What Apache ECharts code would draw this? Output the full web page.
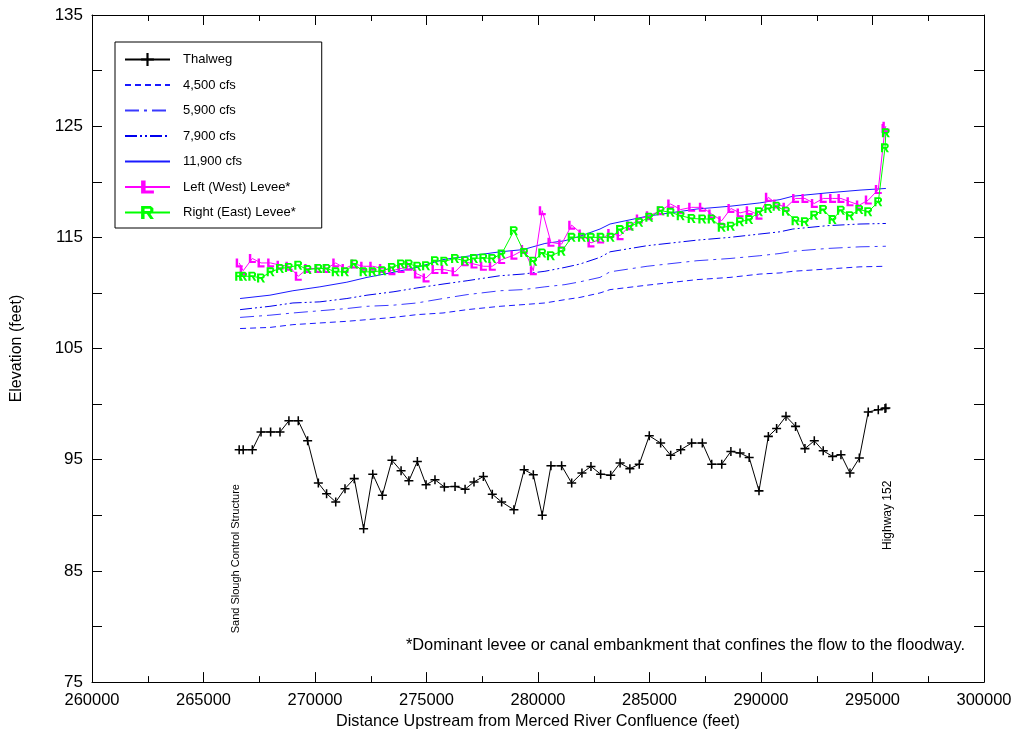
<!DOCTYPE html>
<html>
<head>
<meta charset="utf-8">
<script src="https://cdn.jsdelivr.net/npm/echarts@6/dist/echarts.min.js"></script>
<style>
  html, body { margin: 0; padding: 0; background: #fff; }
  #chart { width: 1017px; height: 735px; }
</style>
</head>
<body>
<div id="chart"></div>
<script>
// Cross-section stations (feet upstream of the Merced River confluence)
const stations = [
  266600, 266780, 267190, 267580, 268010, 268430, 268830, 269250, 269670, 270150,
  270520, 270930, 271345, 271760, 272180, 272590, 273020, 273450, 273860, 274210,
  274590, 274980, 275380, 275800, 276280, 276730, 277130, 277550, 277950, 278370,
  278920, 279380, 279790, 280190, 280580, 281060, 281510, 281970, 282375, 282810,
  283260, 283680, 284120, 284540, 284990, 285500, 285950, 286400, 286890, 287370,
  287790, 288240, 288650, 289060, 289470, 289910, 290330, 290700, 291120, 291550,
  291970, 292390, 292790, 293210, 293585, 293990, 294410, 294810, 295260, 295560,
  295600
];

// Channel thalweg elevation (feet)
const thalweg = [
  95.9, 95.9, 95.9, 97.5, 97.5, 97.5, 98.5, 98.5, 96.7, 92.9,
  91.95, 91.2, 92.4, 93.3, 88.8, 93.7, 91.8, 94.95, 94.0, 93.1,
  94.85, 92.75, 93.2, 92.55, 92.6, 92.35, 93.0, 93.5, 91.9, 91.2,
  90.5, 94.1, 93.65, 90.0, 94.45, 94.45, 92.9, 93.8, 94.4, 93.7,
  93.6, 94.7, 94.2, 94.6, 97.15, 96.5, 95.4, 95.9, 96.5, 96.5,
  94.6, 94.6, 95.75, 95.6, 95.2, 92.2, 97.1, 97.8, 98.9, 98.0,
  96.0, 96.7, 95.8, 95.3, 95.45, 93.8, 95.15, 99.3, 99.5, 99.6,
  99.65
];

// Left (west) levee crest elevation (feet)
const leftLevee = [
  112.7, 112.0, 113.1, 112.7, 112.7, 112.5, 112.4, 111.5, 112.2, 112.2,
  112.2, 112.7, 112.2, 112.6, 112.4, 112.4, 112.2, 112.0, 112.2, 112.4,
  111.7, 111.35, 112.1, 112.1, 111.9, 112.8, 112.6, 112.4, 112.4, 113.0,
  113.4, 113.9, 112.0, 117.4, 114.55, 114.4, 116.1, 115.3, 114.5, 114.85,
  115.35, 115.15, 116.05, 116.65, 116.95, 117.4, 118.0, 117.5, 117.7, 117.7,
  117.1, 116.5, 117.6, 117.2, 117.4, 117.0, 118.6, 118.0, 117.7, 118.5,
  118.5, 118.05, 118.5, 118.5, 118.5, 118.2, 117.9, 118.35, 119.3, 124.8,
  125.0
];

// Right (east) levee crest elevation (feet)
const rightLevee = [
  111.5, 111.5, 111.5, 111.35, 111.9, 112.2, 112.3, 112.5, 112.1, 112.2,
  112.2, 111.9, 111.9, 112.6, 111.9, 111.9, 112.0, 112.3, 112.6, 112.6,
  112.4, 112.45, 112.9, 112.85, 113.1, 112.9, 113.1, 113.15, 113.1, 113.5,
  115.6, 113.65, 112.85, 113.6, 113.35, 113.75, 115.0, 115.0, 115.0, 115.0,
  115.0, 115.7, 116.0, 116.35, 116.8, 117.4, 117.25, 116.95, 116.7, 116.65,
  116.65, 115.9, 116.0, 116.4, 116.6, 117.3, 117.6, 117.8, 117.35, 116.5,
  116.4, 117.0, 117.5, 116.6, 117.45, 116.95, 117.5, 117.3, 118.2, 123.05,
  124.4
];

// Water-surface profile stations (feet)
const wsStations = [
  266640, 267980, 269010, 270220, 271430, 272330, 273500, 274570, 275740, 276820,
  278300, 279330, 280310, 281210, 281880, 282780, 283230, 284890, 287130, 288610,
  289950, 290850, 291430, 292960, 294440, 295600
];

// Water-surface elevations (feet) for each flow
const ws4500 = [
  106.8, 106.9, 107.15, 107.3, 107.45, 107.6, 107.8, 108.05, 108.2, 108.5,
  108.8, 108.95, 109.1, 109.4, 109.6, 110.0, 110.3, 110.7, 111.2, 111.4,
  111.7, 111.8, 111.95, 112.15, 112.35, 112.4
];
const ws5900 = [
  107.8, 108.0, 108.2, 108.4, 108.6, 108.8, 108.9, 109.1, 109.5, 109.85,
  110.2, 110.3, 110.55, 110.75, 111.0, 111.4, 111.9, 112.4, 112.9, 113.1,
  113.35, 113.55, 113.75, 114.0, 114.15, 114.2
];
const ws7900 = [
  108.5, 108.8, 109.1, 109.2, 109.5, 109.8, 110.1, 110.45, 110.8, 111.1,
  111.55, 111.7, 111.95, 112.3, 112.6, 113.2, 113.7, 114.25, 114.75, 115.0,
  115.3, 115.5, 115.75, 116.05, 116.2, 116.25
];
const ws11900 = [
  109.5, 109.8, 110.2, 110.55, 110.97, 111.4, 111.85, 112.3, 113.0, 113.3,
  113.7, 113.9, 114.45, 114.7, 115.1, 115.75, 116.2, 116.9, 117.55, 117.8,
  118.1, 118.4, 118.7, 119.0, 119.25, 119.4
];

const seriesNames = ['Thalweg', '4,500 cfs', '5,900 cfs', '7,900 cfs', '11,900 cfs',
                     'Left (West) Levee*', 'Right (East) Levee*'];
const flowNames = ['4,500 cfs', '5,900 cfs', '7,900 cfs', '11,900 cfs'];
const yLabelValues = [75, 85, 95, 105, 115, 125, 135];
const annotations = [
  { text: 'Sand Slough Control Structure', x: 266450, y: 86.1, size: 11 },
  { text: 'Highway 152', x: 295660, y: 90.0, size: 12 }
];
const footnote = '*Dominant levee or canal embankment that confines the flow to the floodway.';

const FONT = '"Liberation Sans", Arial, sans-serif';
const pair = (xs, ys) => xs.map((x, i) => [x, ys[i]]);

// Marker shapes
const crossPath = 'path://M-0.85,-5 H0.85 V-0.85 H5 V0.85 H0.85 V5 H-0.85 V0.85 H-5 V-0.85 H-0.85 Z';
const lPath = 'path://M0,0 H2.8 V9.2 H8 V12 H0 Z';
const rPath = 'path://M0,0 H2.7 V12 H0 Z M0,0 H7 V2.4 H0 Z ' +
  'M6.5,0 L7.5,0 L9.6,2 L9.6,5 L7.5,7.1 L6.5,7.1 L6.5,4.7 L7.1,4.7 L7.1,2.4 L6.5,2.4 Z ' +
  'M0,4.7 H7.5 V7.1 H0 Z M4.4,7.1 H7.2 L10,12 H7.2 Z';

const chart = echarts.init(document.getElementById('chart'), null, { renderer: 'canvas' });

const frameAxis = {
  axisLine: { show: true, lineStyle: { color: '#000', width: 1 } },
  splitLine: { show: false }
};

// Legend entries: flow profiles show only their line pattern
const legendData = seriesNames.map(name => flowNames.indexOf(name) >= 0
  ? { name, itemStyle: { color: 'rgba(0,0,0,0)', opacity: 0, borderWidth: 0 } }
  : { name });

const option = {
  backgroundColor: '#fff',
  animation: false,
  textStyle: { fontFamily: FONT },
  grid: { left: 92, right: 33, top: 15, bottom: 50, containLabel: false },
  legend: {
    orient: 'vertical',
    left: 115,
    top: 42,
    padding: [11, 26, 9, 9],
    itemWidth: 45,
    itemHeight: 16,
    itemGap: 12.5,
    borderColor: '#000',
    borderWidth: 1,
    backgroundColor: '#fff',
    textStyle: { fontSize: 13, color: '#000', fontFamily: FONT, padding: [0, 0, 0, 8] },
    data: legendData
  },
  xAxis: [
    Object.assign({
      type: 'value', position: 'bottom', min: 260000, max: 300000, interval: 5000,
      name: 'Distance Upstream from Merced River Confluence (feet)',
      nameLocation: 'middle', nameGap: 28,
      nameTextStyle: { fontSize: 16.2, color: '#000', fontFamily: FONT },
      axisTick: { inside: true, length: 10, lineStyle: { color: '#000' } },
      minorTick: { show: true, splitNumber: 2, length: 6, lineStyle: { color: '#000' } },
      axisLabel: { fontSize: 16.5, color: '#000', margin: 10, fontFamily: FONT, formatter: v => String(v) }
    }, frameAxis),
    Object.assign({
      type: 'value', position: 'top', min: 260000, max: 300000, interval: 5000,
      axisTick: { inside: true, length: 10, lineStyle: { color: '#000' } },
      minorTick: { show: true, splitNumber: 2, length: 6, lineStyle: { color: '#000' } },
      axisLabel: { show: false }
    }, frameAxis)
  ],
  yAxis: [
    Object.assign({
      type: 'value', position: 'left', min: 75, max: 135, interval: 5,
      name: 'Elevation (feet)', nameLocation: 'middle', nameGap: 67,
      nameTextStyle: { fontSize: 16, color: '#000', fontFamily: FONT },
      axisTick: { inside: true, length: 10, lineStyle: { color: '#000' } },
      axisLabel: {
        fontSize: 17, color: '#000', margin: 9, fontFamily: FONT,
        formatter: v => (yLabelValues.indexOf(v) >= 0 ? String(v) : '')
      }
    }, frameAxis),
    Object.assign({
      type: 'value', position: 'right', min: 75, max: 135, interval: 5,
      axisTick: { inside: true, length: 10, lineStyle: { color: '#000' } },
      axisLabel: { show: false }
    }, frameAxis)
  ],
  series: [
    {
      name: '4,500 cfs', type: 'line', data: pair(wsStations, ws4500), symbol: 'none',
      lineStyle: { color: '#1a1aff', width: 1, type: [6, 4] }, itemStyle: { color: '#1a1aff' }, z: 2
    },
    {
      name: '5,900 cfs', type: 'line', data: pair(wsStations, ws5900), symbol: 'none',
      lineStyle: { color: '#3a3aff', width: 1, type: [14, 5, 3, 5] }, itemStyle: { color: '#3a3aff' }, z: 2
    },
    {
      name: '7,900 cfs', type: 'line', data: pair(wsStations, ws7900), symbol: 'none',
      lineStyle: { color: '#0000ee', width: 1, type: [12, 3, 2, 3, 2, 3] }, itemStyle: { color: '#0000ee' }, z: 2
    },
    {
      name: '11,900 cfs', type: 'line', data: pair(wsStations, ws11900), symbol: 'none',
      lineStyle: { color: '#1a1aff', width: 1 }, itemStyle: { color: '#1a1aff' }, z: 2
    },
    {
      name: 'Thalweg', type: 'line', data: pair(stations, thalweg),
      symbol: crossPath, symbolSize: 9, showAllSymbol: true,
      lineStyle: { color: '#000', width: 1 }, itemStyle: { color: '#000' }, z: 3
    },
    {
      name: 'Left (West) Levee*', type: 'line', data: pair(stations, leftLevee),
      symbol: lPath, symbolSize: [7, 9], showAllSymbol: true,
      lineStyle: { color: '#ff00ff', width: 1 }, itemStyle: { color: '#ff00ff' }, z: 4
    },
    {
      name: 'Right (East) Levee*', type: 'line', data: pair(stations, rightLevee),
      symbol: rPath, symbolSize: [8, 9], showAllSymbol: true,
      lineStyle: { color: '#00ff00', width: 1 }, itemStyle: { color: '#00ff00' }, z: 5
    }
  ]
};

chart.setOption(option);

// Rotated site labels anchored to data coordinates, plus the footnote
const graphics = annotations.map(a => {
  const p = chart.convertToPixel({ xAxisIndex: 0, yAxisIndex: 0 }, [a.x, a.y]);
  return {
    type: 'text', x: p[0], y: p[1], rotation: Math.PI / 2, z: 10,
    style: { text: a.text, fontSize: a.size, fontFamily: FONT, fill: '#000',
             align: 'center', verticalAlign: 'middle' }
  };
});
graphics.push({
  type: 'text', right: 52, top: 637, z: 10,
  style: { text: footnote, fontSize: 16.4, fontFamily: FONT, fill: '#000' }
});
chart.setOption({ graphic: graphics });
</script>
</body>
</html>
